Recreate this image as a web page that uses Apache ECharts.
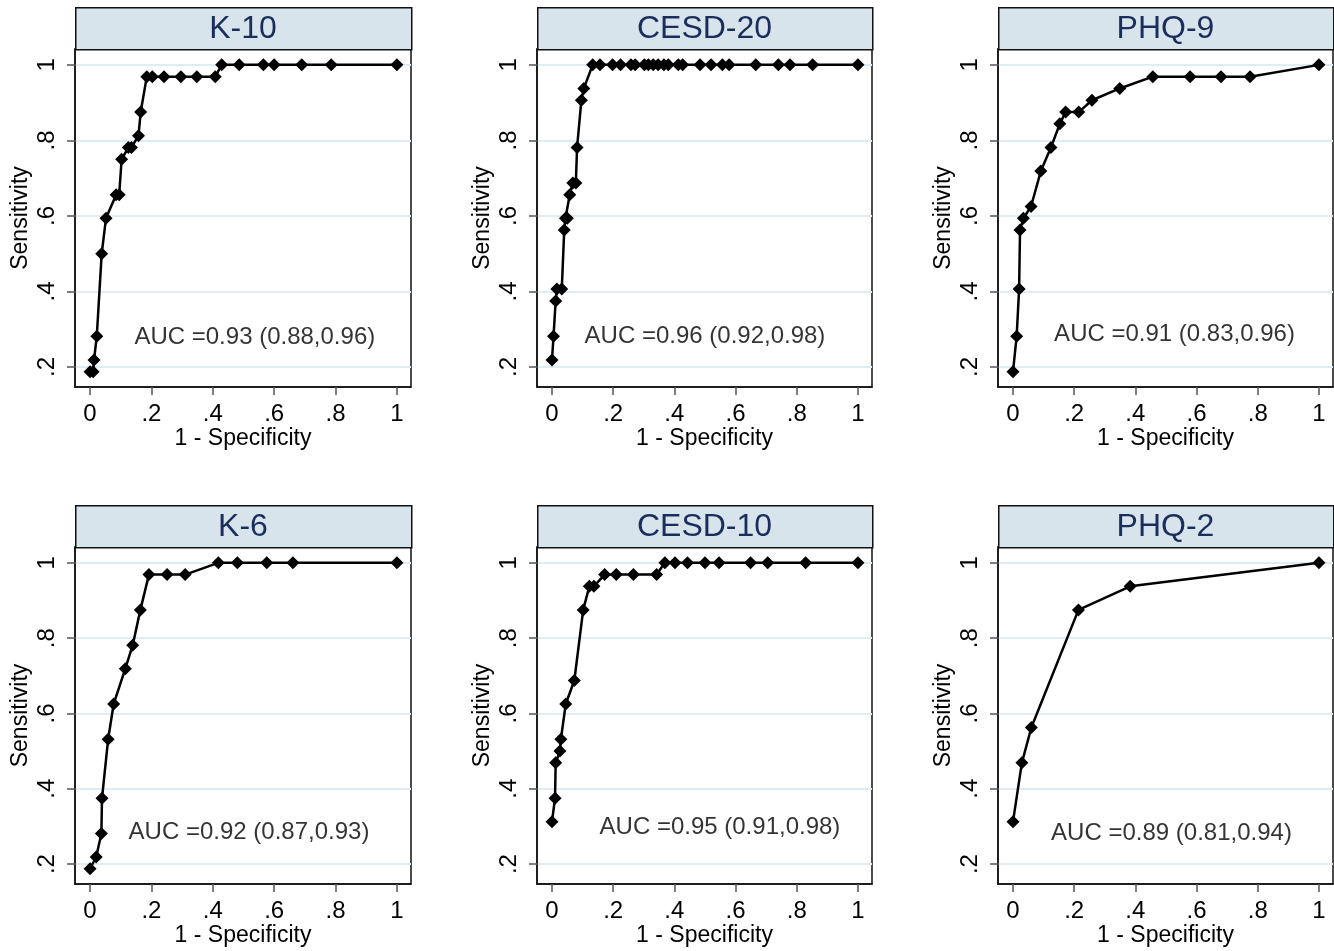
<!DOCTYPE html>
<html><head><meta charset="utf-8">
<script src="https://cdn.jsdelivr.net/npm/echarts@6/dist/echarts.min.js"></script>
<style>html,body{margin:0;padding:0;background:#fff}#c{width:1334px;height:951px}</style>
</head><body><div id="c"></div>
<script>
// ---------- data ----------
const panelTitles = ['K-10', 'CESD-20', 'PHQ-9', 'K-6', 'CESD-10', 'PHQ-2'];
const aucLabels = ['AUC =0.93 (0.88,0.96)', 'AUC =0.96 (0.92,0.98)', 'AUC =0.91 (0.83,0.96)',
                   'AUC =0.92 (0.87,0.93)', 'AUC =0.95 (0.91,0.98)', 'AUC =0.89 (0.81,0.94)'];
const xTicks = [0, 0.2, 0.4, 0.6, 0.8, 1];
const yTicks = [0.2, 0.4, 0.6, 0.8, 1];
const xAxisTitle = '1 - Specificity';
const yAxisTitle = 'Sensitivity';

const k10_fpr  = [0, 0.01, 0.013, 0.022, 0.038, 0.052, 0.085, 0.095, 0.103, 0.125, 0.135, 0.158, 0.165, 0.185, 0.203, 0.241, 0.296, 0.348, 0.408, 0.429, 0.486, 0.565, 0.6, 0.69, 0.786, 1];
const k10_sens = [0.1875, 0.1875, 0.21875, 0.28125, 0.5, 0.59375, 0.65625, 0.65625, 0.75, 0.78125, 0.78125, 0.8125, 0.875, 0.96875, 0.96875, 0.96875, 0.96875, 0.96875, 0.96875, 1, 1, 1, 1, 1, 1, 1];

const cesd20_fpr  = [0, 0.005, 0.012, 0.016, 0.032, 0.04, 0.044, 0.05, 0.058, 0.068, 0.078, 0.082, 0.096, 0.104, 0.133, 0.157, 0.198, 0.224, 0.258, 0.272, 0.302, 0.315, 0.331, 0.347, 0.366, 0.38, 0.413, 0.427, 0.484, 0.52, 0.557, 0.579, 0.666, 0.74, 0.778, 0.852, 1];
const cesd20_sens = [0.21875, 0.28125, 0.375, 0.40625, 0.40625, 0.5625, 0.59375, 0.59375, 0.65625, 0.6875, 0.6875, 0.78125, 0.90625, 0.9375, 1, 1, 1, 1, 1, 1, 1, 1, 1, 1, 1, 1, 1, 1, 1, 1, 1, 1, 1, 1, 1, 1, 1];

const phq9_fpr  = [0, 0.012, 0.02, 0.023, 0.034, 0.059, 0.091, 0.124, 0.153, 0.172, 0.215, 0.258, 0.349, 0.457, 0.579, 0.68, 0.775, 1];
const phq9_sens = [0.1875, 0.28125, 0.40625, 0.5625, 0.59375, 0.625, 0.71875, 0.78125, 0.84375, 0.875, 0.875, 0.90625, 0.9375, 0.96875, 0.96875, 0.96875, 0.96875, 1];

const k6_fpr  = [0, 0.02, 0.037, 0.039, 0.059, 0.077, 0.115, 0.139, 0.164, 0.192, 0.251, 0.31, 0.418, 0.48, 0.576, 0.661, 1];
const k6_sens = [0.1875, 0.21875, 0.28125, 0.375, 0.53125, 0.625, 0.71875, 0.78125, 0.875, 0.96875, 0.96875, 0.96875, 1, 1, 1, 1, 1];

const cesd10_fpr  = [0, 0.01, 0.012, 0.026, 0.029, 0.045, 0.073, 0.102, 0.122, 0.137, 0.172, 0.21, 0.266, 0.342, 0.369, 0.402, 0.443, 0.5, 0.546, 0.649, 0.705, 0.829, 1];
const cesd10_sens = [0.3125, 0.375, 0.46875, 0.5, 0.53125, 0.625, 0.6875, 0.875, 0.9375, 0.9375, 0.96875, 0.96875, 0.96875, 0.96875, 1, 1, 1, 1, 1, 1, 1, 1, 1];

const phq2_fpr  = [0, 0.029, 0.06, 0.214, 0.383, 1];
const phq2_sens = [0.3125, 0.46875, 0.5625, 0.875, 0.9375, 1];

const panelFpr  = [k10_fpr, cesd20_fpr, phq9_fpr, k6_fpr, cesd10_fpr, phq2_fpr];
const panelSens = [k10_sens, cesd20_sens, phq9_sens, k6_sens, cesd10_sens, phq2_sens];

// ---------- layout / style ----------
const FONT = "'Liberation Sans', Arial, sans-serif";
const colLeft = [75, 537, 998], colW = [336, 335, 335];
const rowTop = [49, 547], rowH = [338, 337];
const barH = 42;
const aucAnchor = [[0.537, 0.279], [0.50, 0.28], [0.528, 0.287], [0.518, 0.285], [0.549, 0.298], [0.518, 0.282]];
const xRange = [-0.049, 1.046], yRange = [0.147, 1.042];

const fmt = v => { if (Math.abs(v) < 1e-9) return '0'; if (Math.abs(v - 1) < 1e-9) return '1'; return String(+v.toFixed(2)).replace(/^0/, ''); };

const grids = [], xAxes = [], yAxes = [], series = [], graphics = [];
for (let i = 0; i < 6; i++) {
  const r = Math.floor(i / 3), c = i % 3;
  grids.push({ left: colLeft[c], top: rowTop[r], width: colW[c], height: rowH[r], show: true,
    borderColor: '#111', borderWidth: 1.5, backgroundColor: '#fff', containLabel: false });
  xAxes.push({ type: 'value', gridIndex: i, min: xRange[0], max: xRange[1],
    name: xAxisTitle, nameLocation: 'middle', nameGap: 40,
    nameTextStyle: { fontFamily: FONT, fontSize: 23, color: '#000' },
    axisLine: { show: true, onZero: false, lineStyle: { color: '#111', width: 1.5 } },
    axisTick: { show: true, length: 8, customValues: xTicks, lineStyle: { color: '#555', width: 1.5 } },
    axisLabel: { customValues: xTicks, formatter: fmt, margin: 15, fontFamily: FONT, fontSize: 24, color: '#000' },
    splitLine: { show: false } });
  yAxes.push({ type: 'value', gridIndex: i, min: yRange[0], max: yRange[1],
    name: yAxisTitle, nameLocation: 'middle', nameGap: 43, nameRotate: 90,
    nameTextStyle: { fontFamily: FONT, fontSize: 23, color: '#000' },
    axisLine: { show: true, onZero: false, lineStyle: { color: '#111', width: 1.5 } },
    axisTick: { show: true, length: 8, customValues: yTicks, lineStyle: { color: '#555', width: 1.5 } },
    axisLabel: { customValues: yTicks, formatter: fmt, rotate: 90, margin: 16, fontFamily: FONT, fontSize: 24, color: '#000' },
    splitLine: { show: true, lineStyle: { color: '#e0ecf1', width: 2 } } });
  series.push({ type: 'line', xAxisIndex: i, yAxisIndex: i,
    data: panelFpr[i].map((x, k) => [x, panelSens[i][k]]),
    symbol: 'diamond', symbolSize: [13, 13], showAllSymbol: true,
    lineStyle: { color: '#000', width: 2.5 }, itemStyle: { color: '#000' }, animation: false, z: 3 });
  series.push({ type: 'scatter', xAxisIndex: i, yAxisIndex: i, data: [aucAnchor[i]], symbolSize: 0,
    label: { show: true, position: 'inside', formatter: aucLabels[i], fontFamily: FONT, fontSize: 24, color: '#000' },
    animation: false, silent: true });
  graphics.push({ type: 'rect', left: colLeft[c], top: rowTop[r] - barH,
    shape: { width: colW[c], height: barH },
    style: { fill: '#d7e4eb', stroke: '#111', lineWidth: 1.5 } });
  graphics.push({ type: 'text', x: colLeft[c] + colW[c] / 2, y: rowTop[r] - barH / 2 + 1,
    style: { text: panelTitles[i], fontFamily: FONT, fontSize: 32, fill: '#1b2d5c', align: 'center', verticalAlign: 'middle' } });
}

const chart = echarts.init(document.getElementById('c'), null, { renderer: 'canvas' });
chart.setOption({ animation: false, backgroundColor: '#fff', grid: grids, xAxis: xAxes, yAxis: yAxes, series: series, graphic: graphics });
</script></body></html>
